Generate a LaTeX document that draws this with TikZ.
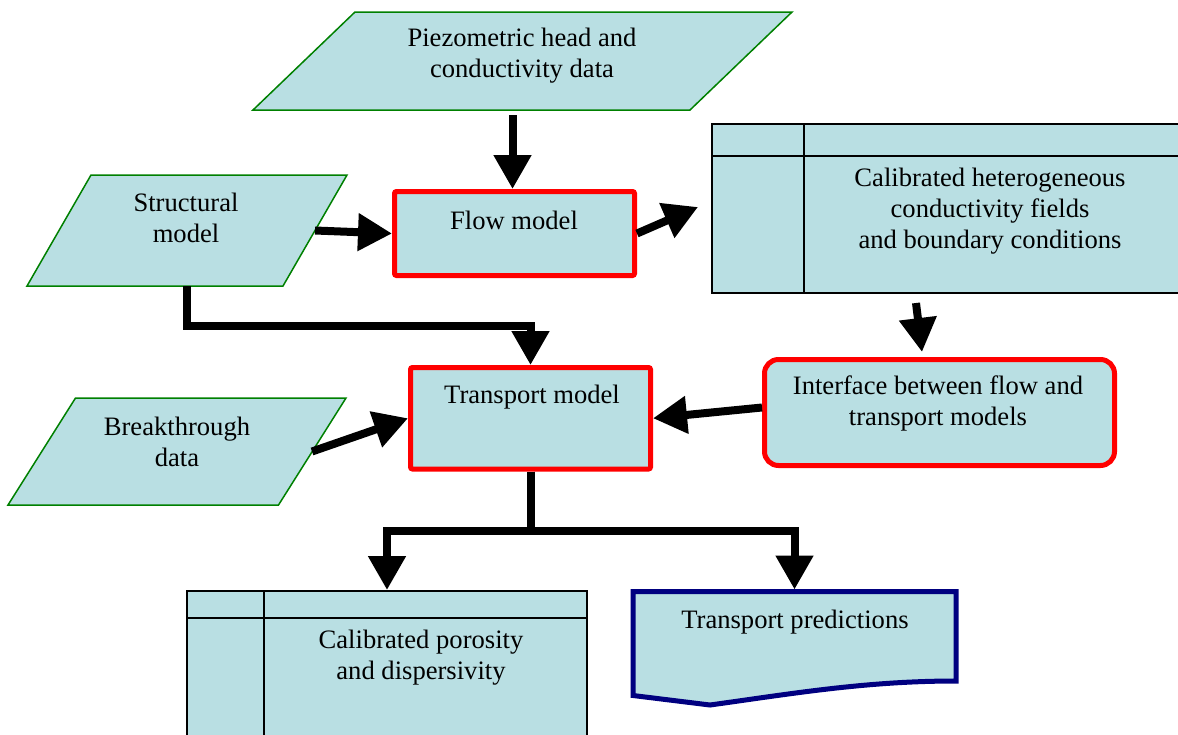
\documentclass[tikz,border=0pt]{standalone}
\usepackage{fontspec}
\setmainfont{LiberationSerif}[Extension=.ttf, UprightFont=*-Regular, BoldFont=*-Bold, ItalicFont=*-Italic, BoldItalicFont=*-BoldItalic]
\usetikzlibrary{arrows.meta,calc}
\definecolor{boxfill}{RGB}{185,223,227}
\definecolor{pgreen}{RGB}{0,128,0}
\definecolor{redline}{RGB}{255,0,0}
\definecolor{navyline}{RGB}{0,0,128}
\begin{document}
\begin{tikzpicture}[x=1pt,y=-1pt,
  txt/.style={font=\fontsize{26.6pt}{31pt}\selectfont, align=center, inner sep=0pt},
  frame/.style={rectangle, inner sep=0pt, outer sep=0pt},
  paraline/.style={draw=pgreen, line width=1.5pt, fill=boxfill, line join=miter},
  redbox/.style={rectangle, draw=redline, line width=5pt, fill=boxfill, rounded corners=2pt, inner sep=0pt},
  tabbox/.style={rectangle, draw=black, line width=2pt, fill=boxfill, inner sep=0pt},
  tabline/.style={draw=black, line width=2pt},
  conn/.style={line width=8pt, line join=miter, -{Triangle[length=34pt,width=36pt]}}]
\useasboundingbox (0,0) rectangle (1178,734);
\clip (0,0) rectangle (1178,734);

% input parallelograms
\node[frame, minimum width=539pt, minimum height=98pt] (piezo) at (522.5,61) {};
\draw[paraline] ($(piezo.north west)+(102,0)$) -- (piezo.north east) -- ($(piezo.south east)+(-102,0)$) -- (piezo.south west) -- cycle;
\node[txt] (piezoT) at (522,56) {Piezometric head and\\conductivity data};

\node[frame, minimum width=320pt, minimum height=111pt] (struct) at (187,230.5) {};
\draw[paraline] ($(struct.north west)+(64,0)$) -- (struct.north east) -- ($(struct.south east)+(-64,0)$) -- (struct.south west) -- cycle;
\node[txt] (structT) at (186,217.5) {Structural\\model};

\node[frame, minimum width=338pt, minimum height=107pt] (break) at (177,451.5) {};
\draw[paraline] ($(break.north west)+(67.5,0)$) -- (break.north east) -- ($(break.south east)+(-67.5,0)$) -- (break.south west) -- cycle;
\node[txt] (breakT) at (177,441.5) {Breakthrough\\data};

% process boxes
\node[redbox, minimum width=240pt, minimum height=84pt] (flow) at (514.5,233.5) {};
\node[txt] (flowT) at (514,220) {Flow model};

\node[redbox, minimum width=240pt, minimum height=101.5pt] (trans) at (530.5,418.25) {};
\node[txt] (transT) at (532,397) {Transport model};

\node[redbox, rounded corners=14pt, minimum width=350pt, minimum height=106pt] (intf) at (939.5,412.5) {};
\node[txt] (intfT) at (938,403.5) {Interface between flow and\\transport models};

% table-like boxes
\node[tabbox, minimum width=488pt, minimum height=169pt] (calib) at (956,208.5) {};
\draw[tabline] ($(calib.north west)+(0,33)$) -- ($(calib.north east)+(0,33)$);
\draw[tabline] ($(calib.north west)+(93,0)$) -- ($(calib.south west)+(93,0)$);
\node[txt] (calibT) at (990,211) {Calibrated heterogeneous\\conductivity fields\\and boundary conditions};

\node[tabbox, minimum width=400pt, minimum height=169pt] (poros) at (387,675.5) {};
\draw[tabline] ($(poros.north west)+(0,28)$) -- ($(poros.north east)+(0,28)$);
\draw[tabline] ($(poros.north west)+(78,0)$) -- ($(poros.south west)+(78,0)$);
\node[txt] (porosT) at (421,657.5) {Calibrated porosity\\and dispersivity};

% document shape
\node[frame, minimum width=323pt, minimum height=108.5pt] (pred) at (794.5,645.75) {};
\draw[navyline, line width=5pt, fill=boxfill, line join=miter]
  (pred.north west) -- (pred.north east) -- ($(pred.north east)+(0,89.5)$)
  .. controls ($(pred.north east)+(-90,89.5)$) and ($(pred.north west)+(160,102)$) .. ($(pred.north west)+(77,113.5)$)
  -- ($(pred.north west)+(0,104)$) -- cycle;
\node[txt] (predT) at (795,622) {Transport predictions};

% connectors
\draw[conn] ($(piezo.south -| flow.north)+(-2,5)$) -- ($(flow.north)+(-2,0)$);
\draw[conn] ($(struct.east)+(-32,0)$) -- (flow.west);
\draw[conn] (struct.south) |- ($(trans.north)+(0,-39)$) -- (trans.north);
\draw[conn] (flow.east) -- ($(calib.west)+(-13,-1.5)$);
\draw[conn] ($(calib.south west)+(205,9)$) -- ($(intf.north)+(-17.5,-5)$);
\draw[conn] ($(intf.west)+(0,-5)$) -- (trans.east);
\draw[conn] ($(break.east)+(-34,0)$) -- (trans.west);
\draw[conn] (trans.south) |- ($(poros.north)+(0,-59)$) -- (poros.north);
\draw[conn] (trans.south) |- ($(pred.north)+(0,-60.5)$) -- ($(pred.north)+(0,-2)$);
\end{tikzpicture}
\end{document}
